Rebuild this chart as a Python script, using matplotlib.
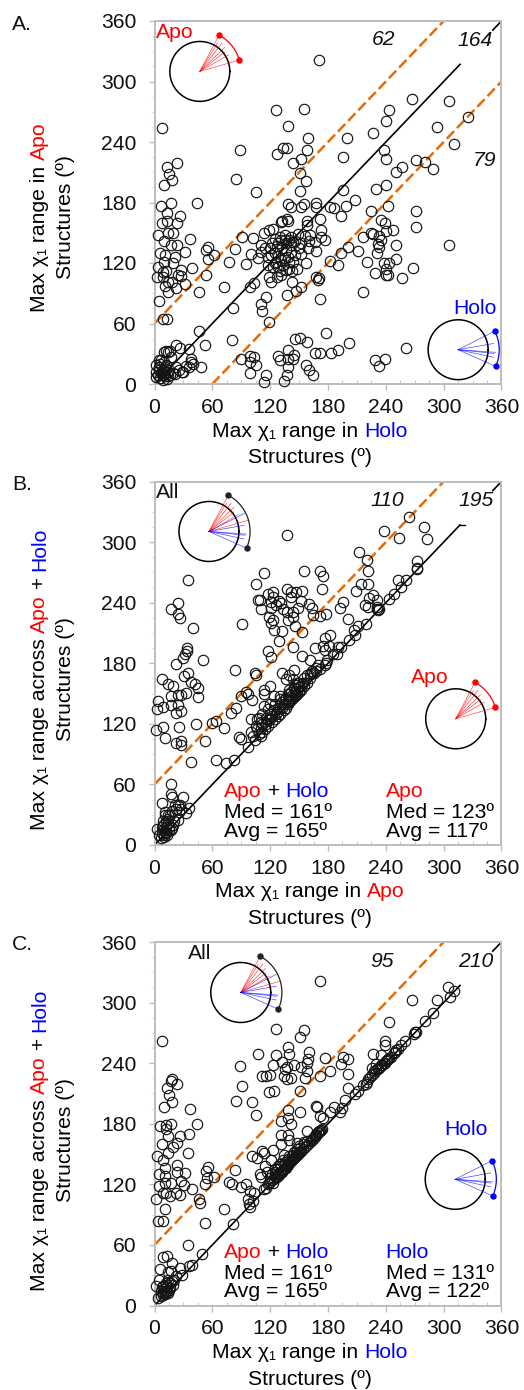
"""
Max chi1 range scatter panels, Apo vs Holo
"""
import numpy as np
import matplotlib
matplotlib.use('Agg')
import matplotlib.pyplot as plt
from matplotlib.ticker import MultipleLocator

plt.rcParams['font.family'] = ['Liberation Sans', 'DejaVu Sans']

W, H = 524, 1390
FS = 15.2
RED, BLUE = '#ff0000', '#0000ff'
ORANGE = '#e36c0a'
GREY = '#bdbdbd'

# panel A: (holo, apo)
pts_a = [(171,321),(126,272),(155,273),(139,256),(8,254),(159,244),(200,244),(227,249),(240,261),(243,272),
 (267,283),(306,281),(325,265),(293,255),(311,238),(89,232),(133,234),(137,234),(158,232),(238,232),
 (127,228),(196,225),(240,223),(152,223),(144,219),(271,222),(281,220),(257,215),(251,210),(289,213),
 (151,209),(157,201),(23,219),(13,215),(15,208),(18,202),(10,197),(85,203),(105,190),(196,192),
 (230,193),(240,197),(151,191),(208,182),(7,177),(17,180),(44,180),(138,179),(142,176),(152,176),
 (155,179),(168,180),(168,176),(182,176),(186,175),(199,177),(242,177),(225,172),(271,172),(193,167),
 (13,170),(26,167),(8,160),(13,162),(23,160),(131,161),(132,162),(137,164),(138,162),(158,162),
 (158,158),(172,164),(235,163),(239,160),(247,153),(240,152),(225,150),(233,147),(271,156),(173,153),
 (114,150),(119,153),(123,154),(149,149),(4,148),(14,150),(19,150),(10,142),(17,138),(23,138),
 (37,144),(56,136),(53,133),(32,131),(6,130),(11,128),(21,126),(55,124),(62,128),(83,134),
 (91,146),(102,145),(77,121),(95,119),(10,121),(19,120),(4,116),(39,115),(28,113),(12,112),
 (9,111),(3,106),(9,106),(14,101),(18,101),(28,107),(24,108),(32,99),(11,97),(22,95),
 (14,91),(46,91),(53,108),(5,82),(72,96),(99,96),(103,100),(100,129),(111,131),(107,125),
 (118,126),(121,128),(125,130),(128,127),(126,121),(131,123),(135,125),(138,126),(140,121),(144,121),
 (123,116),(128,116),(133,118),(140,143),(144,141),(131,143),(135,143),(125,144),(130,146),(152,140),
 (161,148),(166,141),(173,146),(177,143),(159,135),(168,132),(152,129),(157,120),(148,114),(140,114),
 (119,106),(121,101),(127,106),(131,108),(143,101),(152,96),(147,92),(137,88),(116,86),(110,79),
 (112,72),(81,75),(119,61),(171,105),(168,106),(170,103),(172,84),(216,91),(190,118),(182,122),
 (201,136),(194,130),(211,132),(220,121),(229,110),(242,108),(240,108),(257,105),(268,115),(251,124),
 (238,120),(243,120),(240,114),(231,130),(233,136),(232,139),(235,143),(216,146),(227,149),(251,138),
 (306,138),(52,39),(80,44),(46,53),(13,64),(9,64),(22,39),(26,36),(36,35),(14,32),
 (10,32),(5,24),(38,25),(38,22),(36,17),(30,12),(29,12),(48,17),(22,17),(2,19),
 (2,7),(9,4),(14,12),(19,11),(9,14),(5,17),(12,19),(10,22),(7,11),(10,11),
 (9,9),(12,15),(5,14),(16,9),(21,10),(90,25),(99,28),(103,27),(99,22),(105,19),
 (99,11),(116,9),(114,2),(134,3),(137,9),(138,17),(128,28),(130,24),(138,25),(145,29),
 (144,25),(146,45),(151,46),(158,42),(139,34),(178,51),(167,31),(172,31),(183,31),(190,34),
 (202,41),(157,19),(160,14),(164,9),(229,24),(239,25),(233,18),(261,36),
 (2,12),(4,9),(6,6),(8,12),(11,8),(13,5),(15,14),(6,20),(11,17),(14,8),
 (7,24),(12,33),(16,33),(17,27),(25,14),(33,18),(40,20),(115,135),(120,135),(127,137),
 (132,135),(136,133),(142,131),(146,128),(150,135),(125,120),(118,118),(130,112),(136,113),(143,112),
 (128,140),(136,140),(142,138),(146,142),(122,140),(135,148),(142,146),(110,138),(160,142),(156,147)]

# panel B: (apo, apo + holo)
pts_b = [(264,325),(280,315),(283,303),(238,311),(254,304),(137,307),(212,290),(220,282),(221,271),(272,281),
 (272,273),(261,262),(253,262),(256,256),(248,249),(243,244),(214,258),(222,258),(209,252),(227,248),
 (223,245),(231,243),(218,238),(221,236),(231,236),(233,234),(196,241),(192,235),(201,224),(219,219),
 (211,217),(207,213),(208,208),(202,203),(194,196),(190,196),(189,189),(182,208),(177,205),(175,197),
 (181,197),(166,195),(177,193),(179,183),(178,180),(177,178),(161,183),(153,187),(144,196),(129,202),
 (124,213),(132,212),(153,211),(146,217),(91,219),(172,227),(178,229),(164,228),(163,235),(160,239),
 (152,242),(174,254),(175,266),(172,271),(155,271),(114,269),(105,258),(137,254),(153,252),(147,251),
 (142,251),(142,246),(123,251),(118,249),(123,246),(107,243),(109,243),(110,234),(121,241),(129,242),
 (131,240),(126,238),(121,235),(133,234),(137,231),(144,226),(138,223),(144,231),(149,235),(119,226),
 (123,223),(121,220),(118,192),(121,186),(83,173),(104,170),(105,168),(132,170),(140,168),(145,173),
 (144,164),(149,160),(136,164),(161,169),(163,170),(168,175),(120,157),(114,154),(114,150),(95,152),
 (101,144),(90,148),(124,148),(130,145),(140,154),
 (35,262),(24,240),(17,234),(24,229),(26,225),(40,215),(34,195),(34,192),(32,189),(30,185),
 (22,179),(50,183),(35,170),(31,167),(38,161),(42,159),(45,155),(45,147),(8,164),(14,159),
 (19,157),(33,151),(17,148),(24,149),(28,149),(4,143),(3,135),(9,137),(17,139),(24,139),
 (22,131),(28,133),(2,114),(9,117),(11,106),(25,117),(43,120),(60,121),(64,123),(72,116),
 (52,103),(22,101),(27,103),(28,99),(38,82),(64,84),(74,81),(82,84),(79,131),(85,136),
 (88,107),(90,105),(97,97),(97,150),
 (104,104),(108,110),(110,108),(112,112),(115,115),(116,120),(118,118),(120,125),(122,122),(125,125),
 (127,132),(128,128),(130,130),(132,136),(134,134),(136,136),(138,140),(140,142),(142,144),(144,146),
 (146,148),(148,150),(150,152),(152,154),(155,157),(158,160),(100,112),(105,118),(110,122),(102,108),
 (106,125),(112,130),(118,135),(125,140),(130,148),(135,145),(140,150),(145,155),(150,160),(120,140),
 (108,126),(114,138),(100,125),(106,115),(148,160),(155,165),(158,168),(165,170),(168,172),
 (17,60),(17,51),(18,48),(30,48),(8,42),(24,40),(21,40),(36,37),(33,32),(11,33),
 (14,30),(24,25),(19,20),(3,16),(9,20),(12,18),(7,7),(11,13),(9,15),(14,26),
 (11,30),(22,36),(26,40),(12,12),(15,15),(18,17),(10,10),
 (5,10),(8,12),(10,8),(13,10),(15,18),(12,24),(9,24),(14,22),(17,15),(20,24),
 (16,30),(18,34),(27,36),(25,33),(8,18),(110,116),(112,120),(116,126),(120,130),(124,134),
 (128,136),(132,142),(136,146),(138,150),(142,152),(146,158),(122,128),(118,124),(126,130),(130,136),
 (134,140),(138,144),(142,148),(146,152),(150,156),(154,160),(170,178),(172,174),(161,165),(163,172),
 (185,189),(231,234),(232,233),(272,274),(140,143),(143,146),(147,149),(150,153),(152,157)]

# panel C: (holo, apo + holo)
pts_c = [(172,321),(305,315),(311,311),(307,306),(293,303),(267,303),(243,281),(289,290),(281,282),(271,271),
 (269,269),(260,262),(256,258),(251,253),(249,251),(239,262),(239,258),(227,249),(235,248),(242,244),
 (239,240),(235,238),(230,239),(232,235),(226,235),(228,230),(224,226),(219,219),(216,218),(211,212),
 (208,209),(198,204),(195,196),(186,197),(192,192),(182,192),(172,188),(175,186),(168,198),(169,197),
 (201,215),(201,229),(182,232),(194,239),(196,246),(201,244),(177,245),(172,227),(160,251),(159,244),
 (158,240),(152,236),(158,232),(156,225),(151,212),(155,273),(151,266),(126,274),(139,256),(140,249),
 (126,248),(107,249),(89,237),(123,238),(132,241),(145,238),(137,236),(135,234),(134,227),(137,224),
 (142,225),(112,227),(116,227),(120,228),(91,217),(119,211),(124,212),(85,203),(101,202),(105,189),
 (139,194),(151,192),(138,186),(131,183),(142,180),(158,173),(171,173),(168,169),(163,164),(131,169),
 (138,169),(140,164),(131,160),(148,161),(112,153),(123,154),(101,148),(106,146),(114,151),(134,149),
 (121,144),(144,149),
 (8,262),(18,224),(17,222),(23,219),(13,215),(15,208),(18,202),(10,197),(37,195),(44,180),
 (17,180),(12,179),(6,178),(12,175),(14,168),(26,168),(36,170),(8,160),(23,161),(19,157),
 (35,151),(14,151),(3,148),(9,144),(11,136),(23,139),(56,137),(53,133),(32,131),(23,132),
 (5,130),(11,128),(62,127),(54,126),(83,134),(52,120),(28,123),(31,119),(39,115),(17,121),
 (11,121),(5,118),(9,111),(12,111),(16,108),(2,105),(22,111),(26,109),(11,96),(46,105),
 (47,102),(4,84),(9,84),(72,96),(52,82),(81,81),(77,122),(80,120),(90,117),(95,120),
 (99,113),(103,111),(97,105),(98,101),(99,98),(102,103),(109,130),(111,127),(114,115),(116,116),
 (115,138),(117,132),(119,121),(123,121),
 (118,120),(120,122),(122,124),(124,125),(126,128),(128,130),(130,131),(132,132),(134,135),(136,136),
 (138,139),(140,141),(142,143),(144,145),(146,147),(148,149),(150,151),(152,153),(154,155),(156,157),
 (158,159),(160,161),(162,163),(164,165),(166,167),(168,169),(170,171),(125,135),(130,140),(135,142),
 (140,148),(125,130),(128,138),(145,152),(150,158),(155,162),(148,155),(133,144),
 (35,60),(49,51),(9,48),(13,49),(18,42),(26,37),(6,36),(14,33),(17,34),(36,39),
 (39,40),(22,29),(29,30),(5,25),(2,19),(14,25),(19,20),(9,19),(12,20),(4,7),
 (9,12),(12,14),(14,12),(10,16),(7,14),(16,17),
 (228,232),(230,233),(232,234),(234,236),(236,238),(238,240),(240,242),(241,243),(243,245),(245,246),
 (226,228),(222,224),(220,221),(248,250),(253,254),(270,271),(173,174),(164,166),(166,168),(168,170),
 (170,172),(172,173),(174,175),(9,10),(11,11),(13,13),(15,15),(7,9),(10,14),(13,18),
 (16,22),(18,24),(12,22),(8,18),(20,25),(127,127),(129,129),(131,132),(133,134),(135,136),
 (137,138),(139,140),(141,142),(143,144),(145,146),(147,148),(149,150),(151,152),(125,132),(127,135),
 (131,138),(135,140),(139,145),(143,148),(147,152),(151,156),(155,160),(158,163),(120,126),(122,130)]

# dial spokes: angle (deg), length in circle radii
apo_angles = [62, 58, 52, 44, 38, 30, 16]
apo_lens = [1.33, 1.1, 1.2, 1.15, 1.05, 1.1, 1.36]
holo_angles = [27, 10, -4, -6, -12, -24]
holo_lens = [1.33, 1.2, 1.25, 1.2, 1.2, 1.38]

ticks = [0, 60, 120, 180, 240, 300, 360]
PX_X, PX_Y = 360 / 347.0, 360 / 363.5  # degrees per pixel


def color_text(fig, x, y, parts, rotation=0, center=False):
    """Write text pieces of several colours one after another, x, y in pixels"""
    r = fig.canvas.get_renderer()
    widths = []
    for s, c in parts:
        t = fig.text(0, 0, s.replace(' ', '\u00a0'), fontsize=FS)
        widths.append(t.get_window_extent(r).width)
        t.remove()
    pos = -sum(widths) / 2 if center else 0
    for (s, c), w in zip(parts, widths):
        px = x + pos if rotation == 0 else x
        py = y if rotation == 0 else y - pos
        fig.text(px / W, 1 - py / H, s.replace(' ', '\u00a0'), color=c, fontsize=FS,
                 rotation=rotation, rotation_mode='anchor', ha='left', va='baseline')
        pos += w


def draw_dial(ax, cx, cy, spokes, arc_col):
    """Circle with spokes, outer arc and two end dots"""
    rx, ry = 30 * PX_X, 30 * PX_Y
    th = np.linspace(0, 2 * np.pi, 200)
    ax.plot(cx + rx * np.cos(th), cy + ry * np.sin(th), color='k', lw=1.1, zorder=5)
    for angles, lens, col in spokes:
        for a, l in zip(angles, lens):
            a = np.radians(a)
            ax.plot([cx, cx + l * rx * np.cos(a)], [cy, cy + l * ry * np.sin(a)],
                    color=col, lw=0.5, alpha=0.7, zorder=5)
    first = min(s[0][-1] for s in spokes)
    last = max(s[0][0] for s in spokes)
    arc = np.radians(np.linspace(first, last, 40))
    ax.plot(cx + 1.37 * rx * np.cos(arc), cy + 1.37 * ry * np.sin(arc), color=arc_col, lw=0.9, zorder=5)
    ends = np.radians([first, last])
    ax.plot(cx + 1.37 * rx * np.cos(ends), cy + 1.37 * ry * np.sin(ends), 'o', color=arc_col, ms=3.6, zorder=6)


def make_panel(fig, top, bottom, pts):
    ax = fig.add_axes([154.5 / W, 1 - bottom / H, 347 / W, (bottom - top) / H])
    ax.set_xlim(0, 360)
    ax.set_ylim(0, 360)
    ax.xaxis.set_major_locator(MultipleLocator(60))
    ax.yaxis.set_major_locator(MultipleLocator(60))
    ax.xaxis.set_minor_locator(MultipleLocator(15))
    ax.yaxis.set_minor_locator(MultipleLocator(15))
    ax.tick_params(which='major', length=4, width=1, color=GREY, labelsize=FS, labelcolor='#111111')
    ax.tick_params(axis='y', which='major', pad=9)
    ax.tick_params(axis='x', which='major', pad=6)
    ax.tick_params(axis='x', which='minor', direction='in', length=3, width=0.6, color=GREY)
    ax.tick_params(axis='y', which='minor', direction='out', length=3, width=0.6, color='#d8d8d8')
    for sp in ax.spines.values():
        sp.set_color(GREY)
        sp.set_linewidth(1.4)
    arr = np.array(pts)
    ax.plot(arr[:, 0], arr[:, 1], 'o', mfc='none', mec='#141414', ms=7.5, mew=0.85, clip_on=False, zorder=3)
    ax.plot([0, 317], [0, 317], color='k', lw=1.2, zorder=2)
    ax.plot([351, 360], [351, 360], color='k', lw=1.2, zorder=2)
    ax.plot([0, 300], [60, 360], color=ORANGE, lw=1.8, dashes=(4.2, 1.7), zorder=2)
    return ax


def count(ax, x, y, s):
    ax.text(x, y, s, fontsize=FS, style='italic', ha='center', va='center', color='#111111')


def main():
    fig = plt.figure(figsize=(W / 100, H / 100), dpi=100)
    fig.canvas.draw()

    # A
    ax = make_panel(fig, 21, 384, pts_a)
    ax.plot([60, 360], [0, 300], color=ORANGE, lw=1.8, dashes=(4.2, 1.7), zorder=2)
    count(ax, 238, 342, '62')
    count(ax, 333, 341, '164')
    count(ax, 342, 222, '79')
    ax.text(21, 349, 'Apo', color=RED, fontsize=FS, ha='center', va='center')
    ax.text(332, 75, 'Holo', color=BLUE, fontsize=FS, ha='center', va='center')
    draw_dial(ax, 47, 310, [(apo_angles, apo_lens, RED)], RED)
    draw_dial(ax, 315, 34, [(holo_angles, holo_lens, BLUE)], BLUE)
    fig.text(12 / W, 1 - 30 / H, 'A.', fontsize=FS, color='#111111')
    color_text(fig, 45, 217, [('Max χ₁ range in ', 'k'), ('Apo', RED)], rotation=90, center=True)
    color_text(fig, 71, 217, [('Structures (º)', 'k')], rotation=90, center=True)
    color_text(fig, 310, 437, [('Max χ₁ range in ', 'k'), ('Holo', BLUE)], center=True)
    color_text(fig, 310, 463, [('Structures (º)', 'k')], center=True)

    # B
    ax = make_panel(fig, 481.5, 845, pts_b)
    ax.plot([317, 322], [317, 317], color='k', lw=1.0, zorder=2)
    count(ax, 242, 341, '110')
    count(ax, 334, 341, '195')
    ax.text(13.5, 349, 'All', fontsize=FS, ha='center', va='center', color='#111111')
    ax.text(286, 166, 'Apo', color=RED, fontsize=FS, ha='center', va='center')
    draw_dial(ax, 56.5, 310.5, [(apo_angles, apo_lens, RED), (holo_angles, holo_lens, BLUE)], '#222222')
    draw_dial(ax, 312.5, 125, [(apo_angles, apo_lens, RED)], RED)
    fig.text(12 / W, 1 - 490 / H, 'B.', fontsize=FS, color='#111111')
    color_text(fig, 45, 679, [('Max χ₁ range across ', 'k'), ('Apo', RED), (' + ', 'k'), ('Holo', BLUE)],
               rotation=90, center=True)
    color_text(fig, 71, 679, [('Structures (º)', 'k')], rotation=90, center=True)
    color_text(fig, 310, 897, [('Max χ₁ range in ', 'k'), ('Apo', RED)], center=True)
    color_text(fig, 310, 924, [('Structures (º)', 'k')], center=True)
    color_text(fig, 224, 797, [('Apo', RED), (' + ', 'k'), ('Holo', BLUE)])
    color_text(fig, 224, 818, [('Med = 161º', 'k')])
    color_text(fig, 224, 837, [('Avg = 165º', 'k')])
    color_text(fig, 385.5, 797, [('Apo', RED)])
    color_text(fig, 385.5, 818, [('Med = 123º', 'k')])
    color_text(fig, 385.5, 837, [('Avg = 117º', 'k')])

    # C
    ax = make_panel(fig, 942, 1305.5, pts_c)
    count(ax, 236, 341, '95')
    count(ax, 333, 341, '210')
    ax.text(46.5, 349, 'All', fontsize=FS, ha='center', va='center', color='#111111')
    ax.text(323, 174, 'Holo', color=BLUE, fontsize=FS, ha='center', va='center')
    draw_dial(ax, 89.5, 310, [(apo_angles, apo_lens, RED), (holo_angles, holo_lens, BLUE)], '#222222')
    draw_dial(ax, 312, 125, [(holo_angles, holo_lens, BLUE)], BLUE)
    fig.text(12 / W, 1 - 950 / H, 'C.', fontsize=FS, color='#111111')
    color_text(fig, 45, 1140, [('Max χ₁ range across ', 'k'), ('Apo', RED), (' + ', 'k'), ('Holo', BLUE)],
               rotation=90, center=True)
    color_text(fig, 71, 1140, [('Structures (º)', 'k')], rotation=90, center=True)
    color_text(fig, 310, 1358, [('Max χ₁ range in ', 'k'), ('Holo', BLUE)], center=True)
    color_text(fig, 310, 1385, [('Structures (º)', 'k')], center=True)
    color_text(fig, 224, 1258, [('Apo', RED), (' + ', 'k'), ('Holo', BLUE)])
    color_text(fig, 224, 1279, [('Med = 161º', 'k')])
    color_text(fig, 224, 1297, [('Avg = 165º', 'k')])
    color_text(fig, 385.5, 1258, [('Holo', BLUE)])
    color_text(fig, 385.5, 1279, [('Med = 131º', 'k')])
    color_text(fig, 385.5, 1297, [('Avg = 122º', 'k')])

    fig.savefig('out.png', dpi=100)


if __name__ == '__main__':
    main()
